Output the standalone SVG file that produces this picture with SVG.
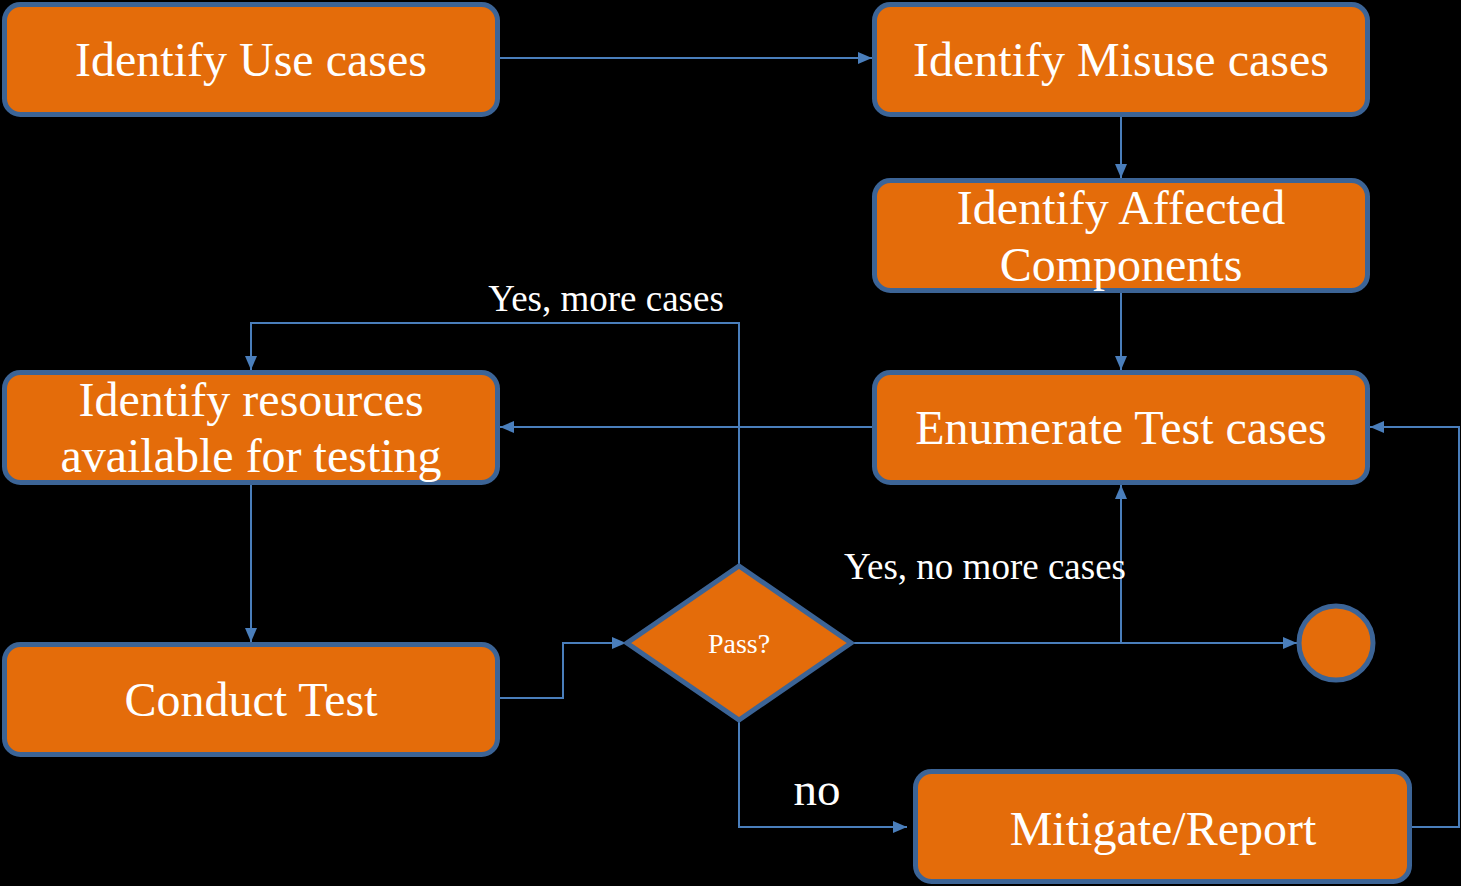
<svg xmlns="http://www.w3.org/2000/svg" width="1461" height="886" viewBox="0 0 1461 886">
  <style>
    .box { fill: #E46C0A; stroke: #3C6496; stroke-width: 5; }
    .t { fill: #FFFFFF; font-family: "Liberation Serif", "Times New Roman", serif; text-anchor: middle; }
    .big { font-size: 48px; }
    .lbl { fill: #FFFFFF; font-family: "Liberation Serif", "Times New Roman", serif; font-size: 37px; text-anchor: middle; }
    .wire { fill: none; stroke: #4A7EBB; stroke-width: 2; }
  </style>
  <defs>
    <marker id="arrow" viewBox="0 0 14 12" refX="14" refY="6" markerWidth="14" markerHeight="12" markerUnits="userSpaceOnUse" orient="auto">
      <path d="M0,0 L14,6 L0,12 Z" fill="#4A7EBB"/>
    </marker>
  </defs>
  <rect width="1461" height="886" fill="#000000"/>

  <g id="connectors">
    <path class="wire" d="M500,58 H872" marker-end="url(#arrow)"/>
    <path class="wire" d="M1121,117 V178" marker-end="url(#arrow)"/>
    <path class="wire" d="M1121,293 V370" marker-end="url(#arrow)"/>
    <path class="wire" d="M872,427 H500" marker-end="url(#arrow)"/>
    <path class="wire" d="M251,485 V642" marker-end="url(#arrow)"/>
    <path class="wire" d="M500,698 H563 V643 H626" marker-end="url(#arrow)"/>
    <path class="wire" d="M739,565 V323 H251 V370" marker-end="url(#arrow)"/>
    <path class="wire" d="M852,643 H1297" marker-end="url(#arrow)"/>
    <path class="wire" d="M1121,643 V485" marker-end="url(#arrow)"/>
    <path class="wire" d="M739,721 V827 H907" marker-end="url(#arrow)"/>
    <path class="wire" d="M1412,827 H1459 V427 H1370" marker-end="url(#arrow)"/>
    <text class="lbl" x="606" y="311">Yes, more cases</text>
    <text class="lbl" x="985" y="579">Yes, no more cases</text>
    <text class="lbl" x="817" y="805" style="font-size:47px">no</text>
  </g>

  <g id="use-cases">
    <rect class="box" x="4.5" y="4.5" width="493" height="110" rx="16"/>
    <text class="t big" x="251" y="76">Identify Use cases</text>
  </g>
  <g id="misuse-cases">
    <rect class="box" x="874.5" y="4.5" width="493" height="110" rx="16"/>
    <text class="t big" x="1121" y="76">Identify Misuse cases</text>
  </g>
  <g id="affected-components">
    <rect class="box" x="874.5" y="180.5" width="493" height="110" rx="16"/>
    <text class="t big" x="1121" y="224">Identify Affected</text>
    <text class="t big" x="1121" y="281">Components</text>
  </g>
  <g id="enumerate-tests">
    <rect class="box" x="874.5" y="372.5" width="493" height="110" rx="16"/>
    <text class="t big" x="1121" y="444">Enumerate Test cases</text>
  </g>
  <g id="resources">
    <rect class="box" x="4.5" y="372.5" width="493" height="110" rx="16"/>
    <text class="t big" x="251" y="416">Identify resources</text>
    <text class="t big" x="251" y="472">available for testing</text>
  </g>
  <g id="conduct-test">
    <rect class="box" x="4.5" y="644.5" width="493" height="110" rx="16"/>
    <text class="t big" x="251" y="716">Conduct Test</text>
  </g>
  <g id="pass-decision">
    <polygon class="box" points="739,566 851,643 739,720 627,643"/>
    <text class="t" x="739" y="653" style="font-size:28px">Pass?</text>
  </g>
  <g id="end">
    <circle class="box" cx="1336" cy="643" r="37"/>
  </g>
  <g id="mitigate-report">
    <rect class="box" x="915.5" y="771.5" width="494" height="110" rx="16"/>
    <text class="t big" x="1163" y="845">Mitigate/Report</text>
  </g>
</svg>
